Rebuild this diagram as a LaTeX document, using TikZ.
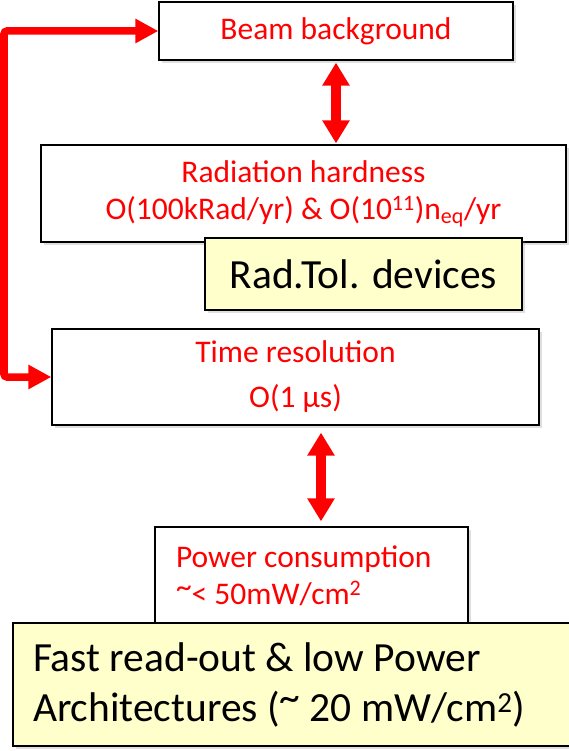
\documentclass[tikz,border=0pt]{standalone}
\usepackage{fontspec}
\setmainfont{Carlito}
\usetikzlibrary{arrows.meta,shadows}
\definecolor{notefill}{HTML}{FFFFCC}
\newcommand{\hitilde}{\raisebox{0.24em}{\textasciitilde}}
\begin{document}
\begin{tikzpicture}[x=1pt, y=-1pt, line join=miter,
	box/.style={draw=black, line width=1.3pt, fill=white, inner sep=0pt, text=red, align=center,
		drop shadow={opacity=0.25, shadow xshift=3pt, shadow yshift=-3pt},
		font=\fontsize{31.5}{37}\selectfont},
	note/.style={box, fill=notefill, text=black, font=\fontsize{41.5}{50}\selectfont},
	link/.style={red, line width=10pt, {Triangle[width=26pt,length=23pt]}-{Triangle[width=26pt,length=23pt]}},
	rail/.style={red, line width=7.5pt, rounded corners=3pt, {Triangle[width=23pt,length=23pt]}-{Triangle[width=23pt,length=23pt]}}]
	\useasboundingbox (0,0) rectangle (568,751);
	\node[box, minimum width=354pt, minimum height=58pt] (beam) at (336,31) {Beam background};
	\node[box, minimum width=525pt, minimum height=97pt] (rad) at (303.5,193.5)
		{Radiation hardness\\O(100kRad/yr) \& O(10\textsuperscript{11})n\textsubscript{eq}/yr};
	\node[note, minimum width=317pt, minimum height=72pt] (radtol) at (363.5,274) {Rad.Tol. devices};
	\node[box, minimum width=487pt, minimum height=96pt] (time) at (295.5,377) {Time resolution\\[8pt]O(1 μs)};
	\node[box, align=flush left, text width=271pt, minimum width=313pt, minimum height=98pt] (power) at (311.5,576)
		{Power consumption\\\hitilde{}< 50mW/cm\textsuperscript{2}};
	\node[note, align=flush left, text width=522pt, minimum width=562pt, minimum height=123pt] (fast) at (294,684.5)
		{Fast read-out \& low Power\\Architectures (\hitilde{} 20 mW/cm\textsuperscript{2})};
	\coordinate (railx) at (4,0);
	\draw[rail] (beam.west) -- (railx |- beam.west) -- (railx |- time.west) -- (time.west);
	\draw[link, shorten <=2pt, shorten >=1pt] (beam.south) -- (beam.south |- rad.north);
	\draw[link, shorten <=7pt, shorten >=5pt] ([xshift=25.5pt]time.south) -- ([xshift=25.5pt]time.south |- power.north);
\end{tikzpicture}
\end{document}
